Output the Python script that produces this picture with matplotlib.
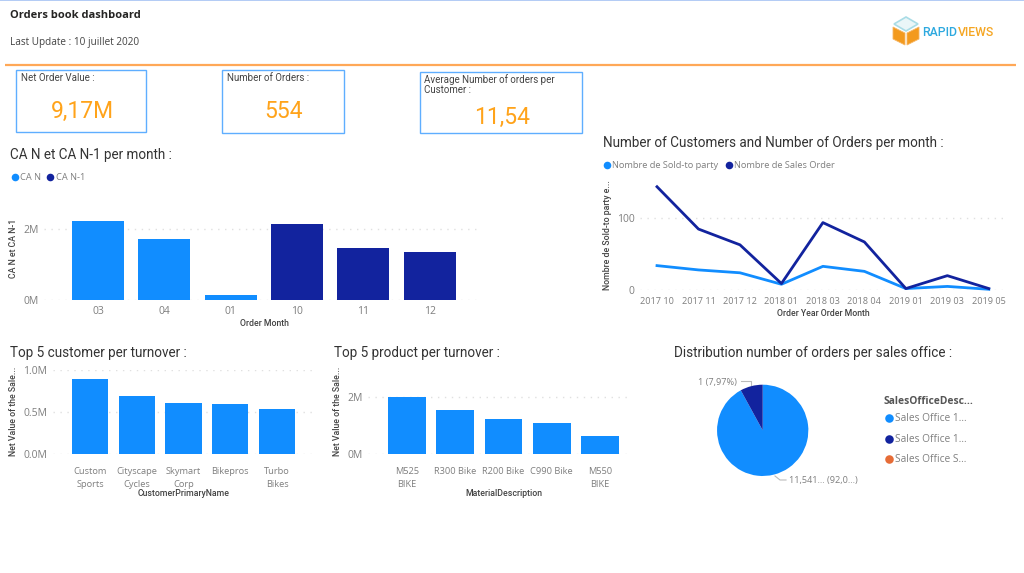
import matplotlib
matplotlib.use('Agg')
import matplotlib.pyplot as plt
from matplotlib.patches import Polygon, Rectangle

plt.rcParams['font.family'] = ['Open Sans', 'DejaVu Sans']

W, H = 1024, 573
LIGHT = '#118DFF'
DARK = '#12239E'
ORANGE = '#FFA31A'
GREY = '#7F7F7F'
DIN = 'Roboto'

# monthly turnover
months = ['03', '04', '01', '10', '11', '12']
ca_values = [2.23, 1.72, 0.13, 2.15, 1.47, 1.36]
ca_colors = [LIGHT, LIGHT, LIGHT, DARK, DARK, DARK]

# customers and orders per month
periods = ['2017 10', '2017 11', '2017 12', '2018 01', '2018 03', '2018 04', '2019 01', '2019 03', '2019 05']
sold_to = [34, 28, 24, 8, 33, 26, 2, 5, 1]
sales_orders = [144, 85, 63, 9, 94, 67, 2, 20, 2]

# top 5 tables
customers = ['Custom\nSports', 'Cityscape\nCycles', 'Skymart\nCorp', 'Bikepros', 'Turbo\nBikes']
customer_values = [0.89, 0.69, 0.61, 0.59, 0.54]
products = ['M525\nBIKE', 'R300 Bike', 'R200 Bike', 'C990 Bike', 'M550\nBIKE']
product_values = [2.0, 1.56, 1.23, 1.11, 0.64]

# pie
pie_shares = [92.03, 7.97]
pie_colors = [LIGHT, DARK]
offices = ['Sales Office 1...', 'Sales Office 1...', 'Sales Office S...']
office_colors = [LIGHT, DARK, '#E66C37']

# kpi cards
kpi_titles = ['Net Order Value :', 'Number of Orders :', 'Average Number of orders per\nCustomer :']
kpi_values = ['9,17M', '554', '11,54']


def px_axes(left, top, right, bottom):
    # axes placed with pixel coordinates of the picture
    return fig.add_axes([left / W, 1 - bottom / H, (right - left) / W, (bottom - top) / H])


def style_axes(ax, yticks, ylabels):
    for s in ax.spines.values():
        s.set_visible(False)
    ax.set_yticks(yticks)
    ax.set_yticklabels(ylabels)
    ax.tick_params(length=0, labelsize=7.5, labelcolor=GREY, pad=4)
    ax.grid(axis='y', color='#E0E0E0', linestyle=(0, (1, 4)), linewidth=1)
    ax.set_axisbelow(True)


def axis_title(x, y, text, rotation=0):
    bg.text(x, y, text, fontsize=6.3, color='#444444', fontfamily=DIN, fontweight='medium',
            rotation=rotation, ha='center', va='center')


fig = plt.figure(figsize=(W / 100, H / 100), dpi=100, facecolor='white')

# overlay in pixel coordinates for the report furniture
bg = fig.add_axes([0, 0, 1, 1])
bg.set_xlim(0, W)
bg.set_ylim(H, 0)
bg.axis('off')

bg.add_patch(Rectangle((0, 0), W, 1.2, color='#B4CCF5', lw=0))
bg.plot([5, 1016], [64.5, 64.5], color='#FFA857', lw=1.6, solid_capstyle='butt')
bg.text(10, 15, 'Orders book dashboard', fontsize=8, fontweight='bold', color='#252423', va='center')
bg.text(10, 42, 'Last Update : 10 juillet 2020', fontsize=7.2, color='#444444', va='center')

# logo
bg.add_patch(Polygon([[906, 17], [918, 24], [906, 31], [894, 24]], fc='#EAF6F8', ec='#A9DCE6', lw=1.2))
bg.add_patch(Polygon([[893, 27], [905, 33], [905, 45], [893, 39]], fc='#F39A1E', ec='#F7B766', lw=0.6))
bg.add_patch(Polygon([[919, 27], [907, 33], [907, 45], [919, 39]], fc='#F39A1E', ec='#F7B766', lw=0.6))
bg.text(922.5, 32, 'RAPID', fontsize=8.8, color='#2EA9DF', va='center', fontfamily=DIN, fontweight='medium')
bg.text(957.5, 32, 'VIEWS', fontsize=8.8, color='#F5A623', va='center', fontfamily=DIN, fontweight='medium')

# kpi cards
boxes = [(16, 70, 146, 132), (222, 70, 344, 133), (420, 72, 582, 133)]
title_pos = [(21, 78), (227, 78), (424, 85)]
value_pos = [(82, 111), (284, 111), (502, 117)]
for box, title, value, tp, vp in zip(boxes, kpi_titles, kpi_values, title_pos, value_pos):
    bg.add_patch(Rectangle((box[0], box[1]), box[2] - box[0], box[3] - box[1], fill=False, ec='#5FAEFF', lw=1))
    bg.text(tp[0], tp[1], title, fontsize=7, color='#444444', va='center', fontfamily=DIN, linespacing=1.0)
    bg.text(vp[0], vp[1], value, fontsize=16.5, color=ORANGE, ha='center', va='center', fontfamily=DIN)

# section titles
for x, y, text in [(10, 155, 'CA N et CA N-1 per month :'),
                   (603, 143, 'Number of Customers and Number of Orders per month :'),
                   (10, 353, 'Top 5 customer per turnover :'),
                   (334, 353, 'Top 5 product per turnover :'),
                   (674, 353, 'Distribution number of orders per sales office :')]:
    bg.text(x, y, text, fontsize=9.75, color='#333333', va='center', fontfamily=DIN)

# legends
for x, y, c, label in [(14.5, 176.5, LIGHT, 'CA N'), (50, 176.5, DARK, 'CA N-1'),
                       (607, 164.5, LIGHT, 'Nombre de Sold-to party'),
                       (729, 164.5, DARK, 'Nombre de Sales Order')]:
    bg.scatter([x], [y], s=30, color=c, lw=0)
    bg.text(x + 5.5, y + 0.5, label, fontsize=6.7, color=GREY, va='center')

# CA N / CA N-1
ax1 = px_axes(44, 210, 480, 300)
ax1.bar(range(len(months)), ca_values, width=0.785, color=ca_colors)
ax1.set_xlim(-0.814, 5.76)
ax1.set_ylim(0, 2.55)
ax1.set_xticks(range(len(months)))
ax1.set_xticklabels(months)
style_axes(ax1, [0, 2], ['0M', '2M'])
axis_title(14, 248, 'CA N et CA N-1', rotation=90)
axis_title(264, 323, 'Order Month')

# line chart
ax2 = px_axes(640, 180, 1005, 290)
ax2.plot(range(len(periods)), sold_to, color=LIGHT, lw=2, clip_on=False)
ax2.plot(range(len(periods)), sales_orders, color=DARK, lw=2, clip_on=False)
ax2.set_xlim(-0.41, 8.39)
ax2.set_ylim(0, 153.4)
ax2.set_xticks(range(len(periods)))
ax2.set_xticklabels(periods)
style_axes(ax2, [0, 100], ['0', '100'])
ax2.tick_params(axis='x', labelsize=6.6, pad=5)
axis_title(607, 235.5, 'Nombre de Sold-to party e...', rotation=90)
axis_title(823, 314, 'Order Year Order Month')

# top 5 customers
ax3 = px_axes(53, 369.7, 314, 454.3)
ax3.bar(range(len(customers)), customer_values, width=0.77, color=LIGHT)
ax3.set_xlim(-0.79, 4.79)
ax3.set_ylim(0, 1.0)
ax3.set_xticks(range(len(customers)))
ax3.set_xticklabels(customers, linespacing=1.6)
style_axes(ax3, [0, 0.5, 1.0], ['0.0M', '0.5M', '1.0M'])
ax3.tick_params(axis='x', pad=9, labelsize=6.7)
axis_title(14, 411, 'Net Value of the Sale...', rotation=90)
axis_title(184, 494, 'CustomerPrimaryName')

# top 5 products
ax4 = px_axes(368, 369.7, 628, 454.3)
ax4.bar(range(len(products)), product_values, width=0.78, color=LIGHT)
ax4.set_xlim(-0.81, 4.58)
ax4.set_ylim(0, 2.97)
ax4.set_xticks(range(len(products)))
ax4.set_xticklabels(products, linespacing=1.6)
style_axes(ax4, [0, 2], ['0M', '2M'])
ax4.tick_params(axis='x', pad=9, labelsize=6.7)
axis_title(338, 411, 'Net Value of the Sale...', rotation=90)
axis_title(504, 494, 'MaterialDescription')

# pie
ax5 = px_axes(717, 384.7, 808.4, 476)
ax5.pie(pie_shares, colors=pie_colors, startangle=90, counterclock=False, radius=1.0)
ax5.set_xlim(-1, 1)
ax5.set_ylim(-1, 1)
bg.text(698, 382, '1 (7,97%)', fontsize=6.6, color=GREY, va='center')
bg.plot([741, 751, 751], [381, 381, 385], color='#BBBBBB', lw=0.8)
bg.text(789, 481, '11,541... (92,0...)', fontsize=6.6, color=GREY, va='center')
bg.plot([775, 780, 786], [476, 480, 480], color='#BBBBBB', lw=0.8)

bg.text(884, 402, 'SalesOfficeDesc...', fontsize=7.4, fontweight='bold', color='#555555', va='center')
for y, c, label in zip([418, 439, 459], office_colors, offices):
    bg.scatter([889], [y], s=38, color=c, lw=0)
    bg.text(895, y + 0.5, label, fontsize=7.3, color=GREY, va='center')

fig.savefig('out.png', dpi=100, facecolor='white')
